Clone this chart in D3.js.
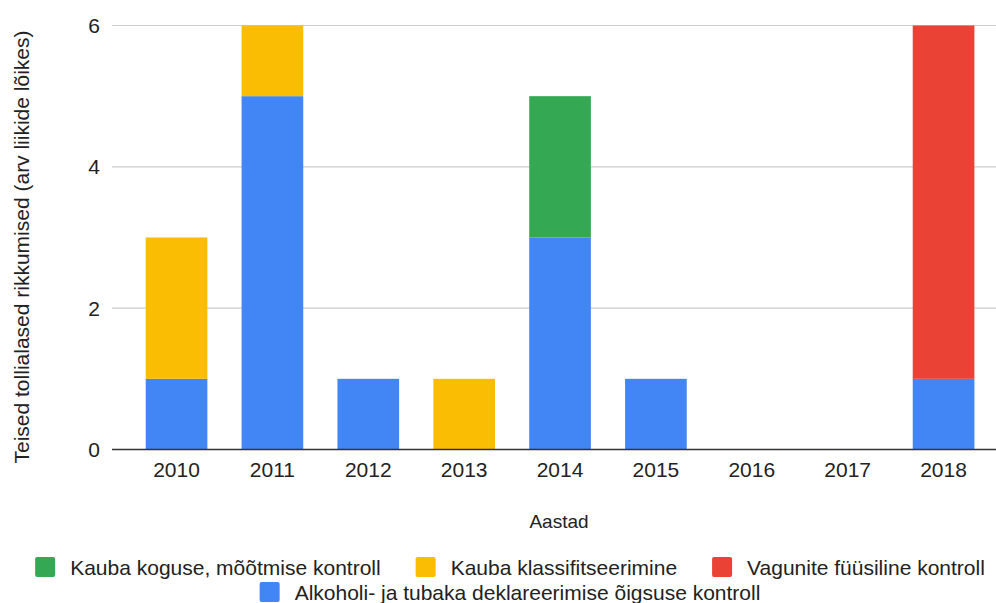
<!DOCTYPE html>
<html>
<head>
<meta charset="utf-8">
<script src="https://cdn.jsdelivr.net/npm/d3@7"></script>
<style>
  body { margin: 0; background: #fff; }
  svg { display: block; font-family: "Liberation Sans", Arial, sans-serif; }
</style>
</head>
<body>
<svg width="996" height="603"></svg>
<script>
const years = ['2010', '2011', '2012', '2013', '2014', '2015', '2016', '2017', '2018'];
const alkoholi = [1, 5, 1, 0, 3, 1, 0, 0, 1];
const klassifitseerimine = [2, 1, 0, 1, 0, 0, 0, 0, 0];
const koguse = [0, 0, 0, 0, 2, 0, 0, 0, 0];
const vagunite = [0, 0, 0, 0, 0, 0, 0, 0, 5];
const yTicks = [0, 2, 4, 6];

const seriesNames = {
  alkoholi: 'Alkoholi- ja tubaka deklareerimise õigsuse kontroll',
  klassifitseerimine: 'Kauba klassifitseerimine',
  koguse: 'Kauba koguse, mõõtmise kontroll',
  vagunite: 'Vagunite füüsiline kontroll'
};
const colors = {
  alkoholi: '#4285f4',
  klassifitseerimine: '#fbbc04',
  koguse: '#34a853',
  vagunite: '#ea4335'
};

const rows = years.map((y, i) => ({
  year: y,
  alkoholi: alkoholi[i],
  klassifitseerimine: klassifitseerimine[i],
  koguse: koguse[i],
  vagunite: vagunite[i]
}));

const keys = ['alkoholi', 'klassifitseerimine', 'koguse', 'vagunite'];
const stacked = d3.stack().keys(keys)(rows);

const svg = d3.select('svg');

const x = d3.scaleBand()
  .domain(years)
  .range([128.6, 991.5])
  .paddingInner(0.357)
  .paddingOuter(0.1785);

const y = d3.scaleLinear()
  .domain([0, 6])
  .range([449.5, 25.5]);

// gridlines
svg.append('g')
  .selectAll('line')
  .data(yTicks.filter(d => d !== 0))
  .enter().append('line')
  .attr('x1', 112)
  .attr('x2', 996)
  .attr('y1', d => y(d))
  .attr('y2', d => y(d))
  .attr('stroke', '#cccccc')
  .attr('stroke-width', 1.2);

// bars
svg.append('g')
  .selectAll('g')
  .data(stacked)
  .enter().append('g')
  .attr('fill', d => colors[d.key])
  .selectAll('rect')
  .data(d => d.filter(s => s[1] - s[0] > 0))
  .enter().append('rect')
  .attr('x', d => x(d.data.year))
  .attr('width', x.bandwidth())
  .attr('y', d => y(d[1]))
  .attr('height', d => y(d[0]) - y(d[1]));

// baseline
svg.append('line')
  .attr('x1', 112)
  .attr('x2', 996)
  .attr('y1', y(0))
  .attr('y2', y(0))
  .attr('stroke', '#333333')
  .attr('stroke-width', 1.5);

// y tick labels
svg.append('g')
  .selectAll('text')
  .data(yTicks)
  .enter().append('text')
  .attr('x', 100)
  .attr('y', d => y(d))
  .attr('dy', '0.36em')
  .attr('text-anchor', 'end')
  .attr('font-size', 21)
  .attr('fill', '#222')
  .text(d => d);

// x tick labels
svg.append('g')
  .selectAll('text')
  .data(years)
  .enter().append('text')
  .attr('x', d => x(d) + x.bandwidth() / 2)
  .attr('y', 477)
  .attr('text-anchor', 'middle')
  .attr('font-size', 21)
  .attr('fill', '#222')
  .text(d => d);

// axis titles
svg.append('text')
  .attr('x', 559)
  .attr('y', 528)
  .attr('text-anchor', 'middle')
  .attr('font-size', 19)
  .attr('fill', '#222')
  .text('Aastad');

svg.append('text')
  .attr('transform', 'translate(29,247) rotate(-90)')
  .attr('text-anchor', 'middle')
  .attr('font-size', 21)
  .attr('fill', '#222')
  .text('Teised tollialased rikkumised (arv liikide lõikes)');

// legend
const legendRows = [['koguse', 'klassifitseerimine', 'vagunite'], ['alkoholi']];
const legendCenter = 510;
const box = 20, boxGap = 15, itemGap = 35;
const legend = svg.append('g').attr('font-size', 21).attr('fill', '#222');

legendRows.forEach((row, ri) => {
  const cy = 567 + ri * 25;
  const g = legend.append('g');
  let cx = 0;
  row.forEach(k => {
    g.append('rect')
      .attr('x', cx)
      .attr('y', cy - box / 2)
      .attr('width', box)
      .attr('height', box)
      .attr('rx', 2)
      .attr('fill', colors[k]);
    const t = g.append('text')
      .attr('x', cx + box + boxGap)
      .attr('y', cy)
      .attr('dy', '0.36em')
      .text(seriesNames[k]);
    cx += box + boxGap + t.node().getComputedTextLength() + itemGap;
  });
  const total = cx - itemGap;
  g.attr('transform', `translate(${legendCenter - total / 2},0)`);
});
</script>
</body>
</html>
